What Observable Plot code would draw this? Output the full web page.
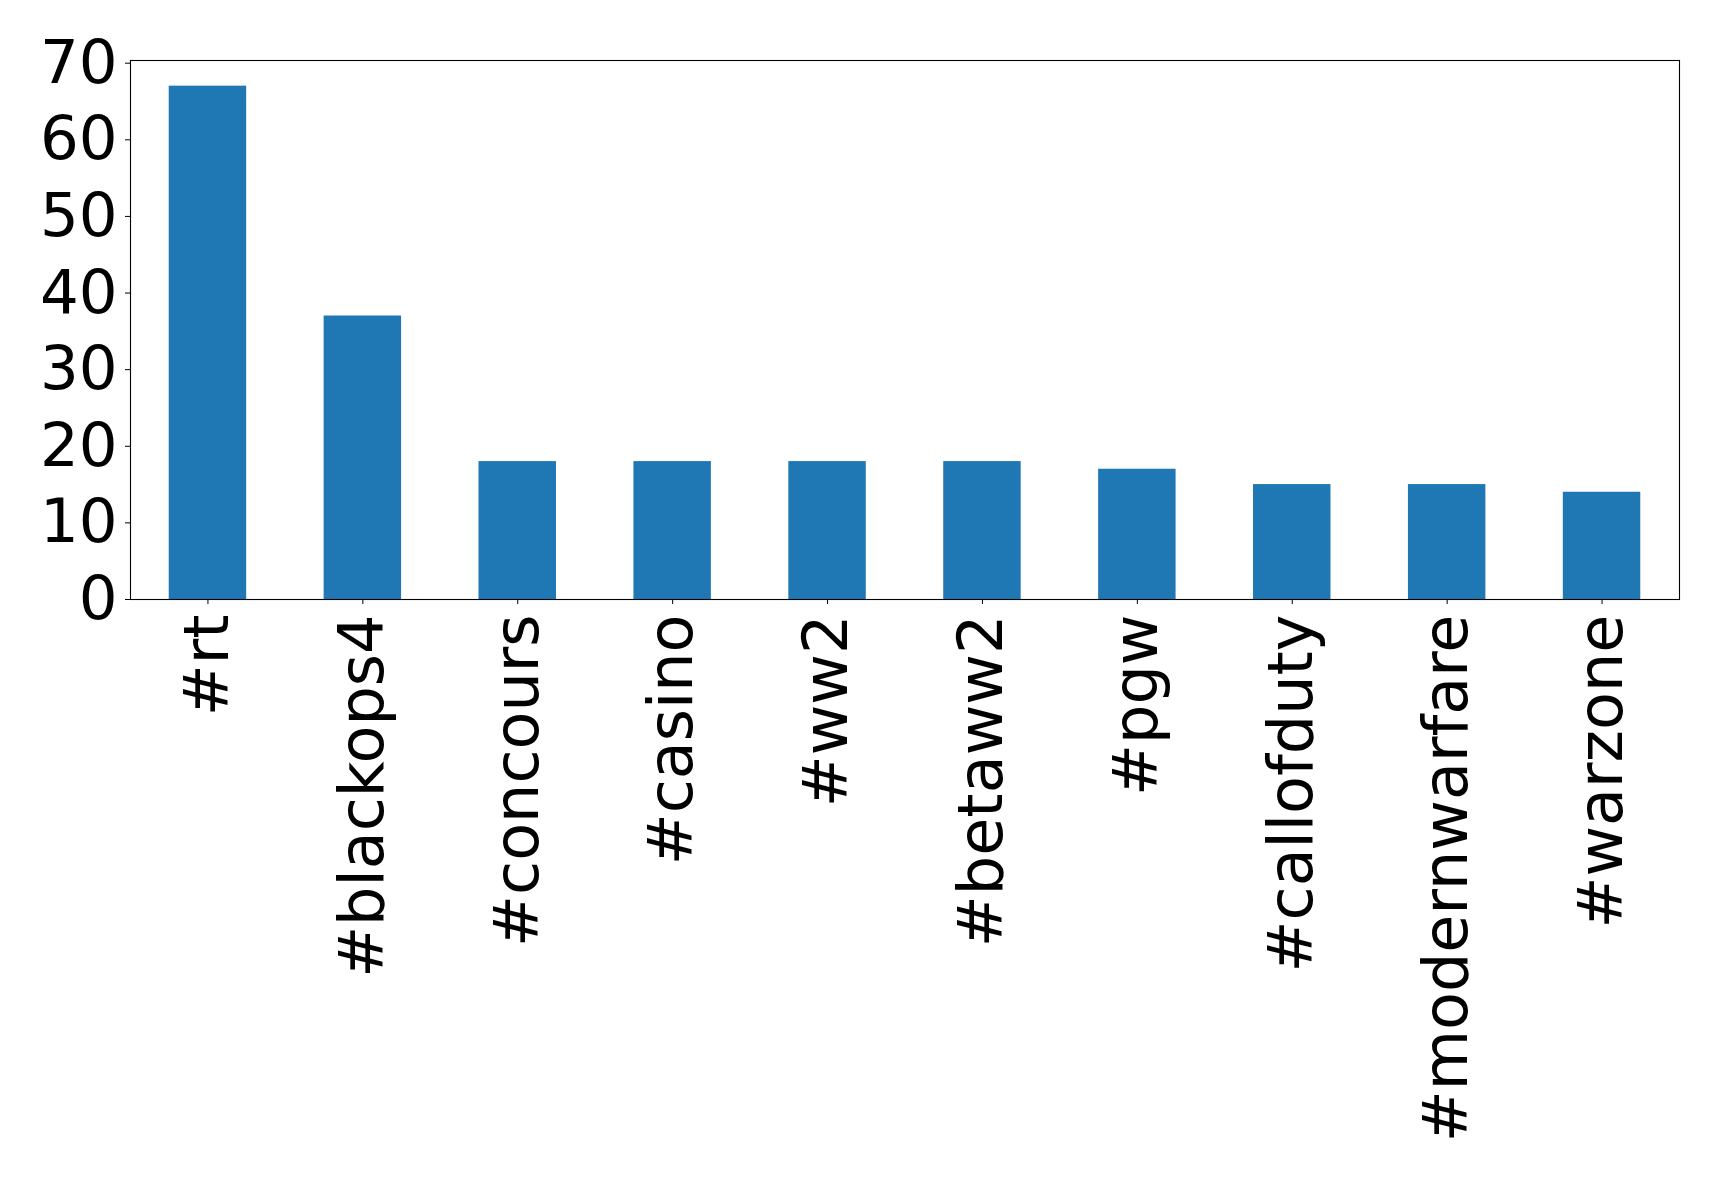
<!DOCTYPE html>
<html>
<head>
<meta charset="utf-8">
<script src="https://cdn.jsdelivr.net/npm/d3@7"></script>
<script src="https://cdn.jsdelivr.net/npm/@observablehq/plot@0.6"></script>
<style>
  html, body { margin: 0; padding: 0; background: #fff; }
  svg { font-family: "DejaVu Sans", sans-serif; display: block; }
</style>
</head>
<body>
<div id="chart"></div>
<script>
const hashtags = ["#rt", "#blackops4", "#concours", "#casino", "#ww2", "#betaww2", "#pgw", "#callofduty", "#modernwarfare", "#warzone"];
const counts = [67, 37, 18, 18, 18, 18, 17, 15, 15, 14];
const yTicks = [0, 10, 20, 30, 40, 50, 60, 70];

const data = hashtags.map((h, i) => ({tag: h, count: counts[i]}));

const chart = Plot.plot({
  width: 1719,
  height: 1181,
  marginLeft: 130,
  marginRight: 40,
  marginTop: 60,
  marginBottom: 582,
  style: {fontFamily: "DejaVu Sans, sans-serif", background: "#fff", color: "#000"},
  x: {domain: hashtags, paddingInner: 0.5, paddingOuter: 0.25, align: 0.5, round: false},
  y: {domain: [0, 70.35]},
  marks: [
    Plot.barY(data, {x: "tag", y: "count", fill: "#1f77b4"}),
    Plot.frame({stroke: "black", strokeWidth: 1.1}),
    Plot.axisY({ticks: yTicks, tickSize: 5, tickPadding: 8, fontSize: 61, label: null, tickFormat: d => String(d)}),
    Plot.axisX({tickSize: 5, tickPadding: 10, tickRotate: -90, fontSize: 62, label: null})
  ]
});
document.getElementById("chart").appendChild(chart);
</script>
</body>
</html>
